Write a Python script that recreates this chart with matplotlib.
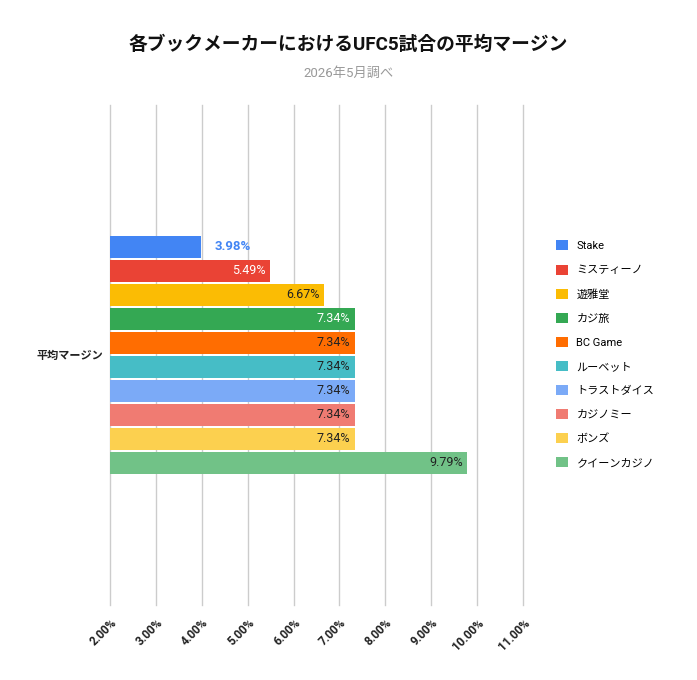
import matplotlib
matplotlib.use('Agg')
import matplotlib.pyplot as plt
import numpy as np

plt.rcParams['font.family'] = ['Roboto', 'Noto Sans CJK JP', 'DejaVu Sans']

# データ
bookmakers = ['Stake', 'ミスティーノ', '遊雅堂', 'カジ旅', 'BC Game',
              'ルーベット', 'トラストダイス', 'カジノミー', 'ボンズ', 'クイーンカジノ']
margins = [3.98, 5.49, 6.67, 7.34, 7.34, 7.34, 7.34, 7.34, 7.34, 9.79]
colors = ['#4285F4', '#EA4335', '#FBBC04', '#34A853', '#FF6D01',
          '#46BDC6', '#7BAAF7', '#F07B72', '#FCD04F', '#71C287']
label_colors = ['#4285F4', 'white', '#222222', 'white', '#222222',
                '#222222', '#222222', '#222222', '#222222', '#222222']
xticks = np.arange(2, 12, 1)
category = '平均マージン'

W, H = 697, 680
fig = plt.figure(figsize=(W / 100, H / 100), dpi=100)
ax = fig.add_axes([110 / W, 75 / H, 413 / W, 500 / H])

# バーの配置 (カテゴリ帯 0..500 の中央に 10 本)
n = len(bookmakers)
pitch = 24
bar_h = 22
start = 250 - n * pitch / 2 + pitch / 2
ypos = start + np.arange(n) * pitch

for i in range(n):
    ax.barh(ypos[i], margins[i] - 2, left=2, height=bar_h, color=colors[i],
            label=bookmakers[i], zorder=3)
    txt = f'{margins[i]:.2f}%'
    if i == 0:
        ax.text(margins[i] + 0.3, ypos[i], txt, ha='left', va='center',
                color=label_colors[i], fontsize=9.5, fontweight='bold', zorder=4)
    else:
        ax.text(margins[i] - 0.1, ypos[i], txt, ha='right', va='center',
                color=label_colors[i], fontsize=9, zorder=4)

ax.set_xlim(2, 11)
ax.set_ylim(500, 0)
ax.set_xticks(xticks)
ax.set_xticklabels([f'{v:.2f}%' for v in xticks], rotation=45, ha='right',
                   rotation_mode='anchor', fontsize=8.5, fontweight='bold', color='#222222')
ax.tick_params(axis='x', length=0, pad=8)
ax.set_yticks([250])
ax.set_yticklabels([category], fontsize=8, fontweight='bold', color='#222222')
ax.tick_params(axis='y', length=0, pad=5)
ax.grid(axis='x', color='#cccccc', linewidth=1, zorder=0)
for line in ax.get_xgridlines():
    line.set_clip_on(False)
for s in ax.spines.values():
    s.set_visible(False)

fig.text(0.5, 1 - 45 / H, '各ブックメーカーにおけるUFC5試合の平均マージン',
         ha='center', va='center', fontsize=13.5, fontweight='bold', color='#111111')
fig.text(0.5, 1 - 73 / H, '2026年5月調べ', ha='center', va='center',
         fontsize=9.5, color='#999999')

ax.legend(loc='upper left', bbox_to_anchor=(552 / W, 1 - 236 / H),
          bbox_transform=fig.transFigure, frameon=False, fontsize=8,
          handlelength=1.0, handleheight=1.0, handletextpad=0.8,
          labelspacing=1.2, borderaxespad=0)

fig.savefig('out.png', dpi=100, facecolor='white')
